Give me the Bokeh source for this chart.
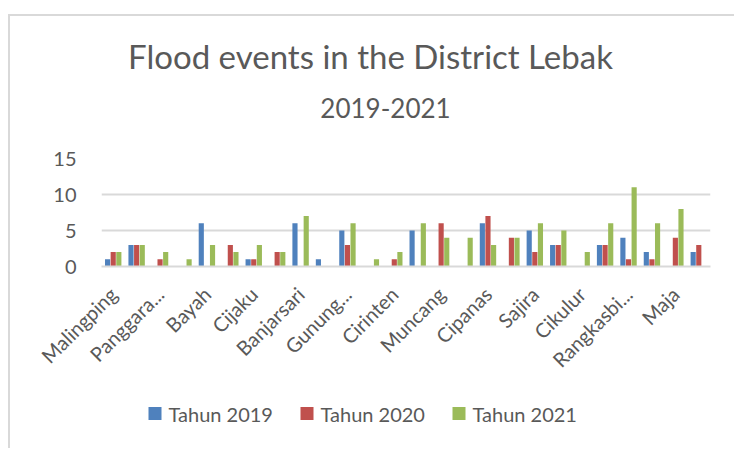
import math
from bokeh.plotting import figure
from bokeh.layouts import column
from bokeh.models import ColumnDataSource, Range1d, FixedTicker
from bokeh.core.properties import value
from bokeh.transform import dodge
from bokeh.embed import file_html
from bokeh.resources import INLINE

districts = ["Malingping", "Wanasalam", "Panggarangan", "Cihara", "Bayah", "Cilograng",
             "Cijaku", "Cigemblong", "Banjarsari", "Cileles", "Gunungkencana", "Bojongmanik",
             "Cirinten", "Leuwidamar", "Muncang", "Sobang", "Cipanas", "Lebakgedong",
             "Sajira", "Cimarga", "Cikulur", "Warunggunung", "Rangkasbitung", "Kalanganyar",
             "Maja", "Curugbitung"]
tick_labels = ["Malingping", "", "Panggara...", "", "Bayah", "", "Cijaku", "", "Banjarsari", "",
               "Gunung...", "", "Cirinten", "", "Muncang", "", "Cipanas", "", "Sajira", "",
               "Cikulur", "", "Rangkasbi...", "", "Maja", ""]
tahun_2019 = [1, 3, 0, 0, 6, 0, 1, 0, 6, 1, 5, 0, 0, 5, 0, 0, 6, 0, 5, 3, 0, 3, 4, 2, 0, 2]
tahun_2020 = [2, 3, 1, 0, 0, 3, 1, 2, 0, 0, 3, 0, 1, 0, 6, 0, 7, 4, 2, 3, 0, 3, 1, 1, 4, 3]
tahun_2021 = [2, 3, 2, 1, 3, 2, 3, 2, 7, 0, 6, 1, 2, 6, 4, 4, 3, 4, 6, 5, 2, 6, 11, 6, 8, 0]
series_names = ["Tahun 2019", "Tahun 2020", "Tahun 2021"]
colors = ["#4F81BD", "#C0504D", "#9BBB59"]
y_ticks = [0, 5, 10, 15]
title_lines = ["Flood events in the District Lebak", "2019-2021"]

FONT = "Lato"
GREY = "#595959"

# ---- title strip (pixel-like layout coordinates: x across the plot frame, y from page top)
tf = figure(width=724, height=128, x_range=Range1d(101, 710), y_range=Range1d(144, 16),
            output_backend="svg", toolbar_location=None, min_border=0)
tf.title = None
tf.axis.visible = False
tf.grid.visible = False
tf.outline_line_color = None
tsrc = ColumnDataSource(dict(t=title_lines, x=[370, 385], y=[55, 107],
                             s=["33px", "26px"]))
tf.text(x="x", y="y", text="t", source=tsrc, text_font=value(FONT), text_font_size="s",
        text_color=GREY, text_align="center", text_baseline="middle")

# ---- main chart
idx = list(range(len(districts)))
src = ColumnDataSource(dict(i=idx, d=districts, a=tahun_2019, b=tahun_2020, c=tahun_2021))

p = figure(x_range=Range1d(-0.5, len(districts) - 0.5),
           y_range=Range1d(0, 15),
           width=724, height=251, output_backend="svg", toolbar_location=None,
           min_border_left=91, min_border_right=24, min_border_top=14,
           min_border_bottom=129)
p.title = None
p.outline_line_color = None

bw = 0.22
for key, off, col in zip(["a", "b", "c"], [-0.24, 0.0, 0.24], colors):
    p.vbar(x=dodge("i", off), top=key, width=bw, source=src,
           fill_color=col, line_color=None)

p.yaxis.ticker = FixedTicker(ticks=y_ticks)
p.yaxis.axis_line_color = None
p.yaxis.major_tick_line_color = None
p.yaxis.minor_tick_line_color = None
p.yaxis.major_label_text_font = FONT
p.yaxis.major_label_text_font_size = "20px"
p.yaxis.major_label_text_color = GREY
p.yaxis.major_label_standoff = 19

p.xaxis.ticker = FixedTicker(ticks=idx)
p.xaxis.axis_line_color = "#D9D9D9"
p.xaxis.axis_line_width = 2
p.xaxis.major_tick_line_color = None
p.xaxis.minor_tick_line_color = None
p.xaxis.major_label_orientation = math.pi / 4
p.xaxis.major_label_text_font = FONT
p.xaxis.major_label_text_font_size = "20px"
p.xaxis.major_label_text_color = GREY
p.xaxis.major_label_standoff = 18
p.xaxis.major_label_overrides = {i: t for i, t in zip(idx, tick_labels)}

p.xgrid.grid_line_color = None
p.ygrid.grid_line_color = "#D9D9D9"
p.ygrid.grid_line_width = 2

# ---- legend strip (same pixel-like layout coordinates)
lf = figure(width=724, height=53, x_range=Range1d(101, 710), y_range=Range1d(448, 395),
            output_backend="svg", toolbar_location=None, min_border=0)
lf.title = None
lf.axis.visible = False
lf.grid.visible = False
lf.outline_line_color = None
swatch_x = [154.5, 306.5, 458.5]
legend_y = 413
lsrc = ColumnDataSource(dict(x=swatch_x, y=[legend_y] * 3, c=colors, t=series_names,
                             tx=[sx + 13.5 for sx in swatch_x]))
lf.scatter(x="x", y="y", marker="square", size=13, fill_color="c", line_color=None,
           source=lsrc)
lf.text(x="tx", y="y", text="t", source=lsrc, text_font=value(FONT), text_font_size="20px",
        text_color=GREY, text_align="left", text_baseline="middle")

layout = column(tf, p, lf, spacing=0)
layout.styles = {"border-top": "2px solid #D9D9D9", "border-left": "2px solid #D9D9D9",
                 "margin-top": "14px", "margin-left": "8px"}

open("out.html", "w").write(file_html(layout, INLINE))
